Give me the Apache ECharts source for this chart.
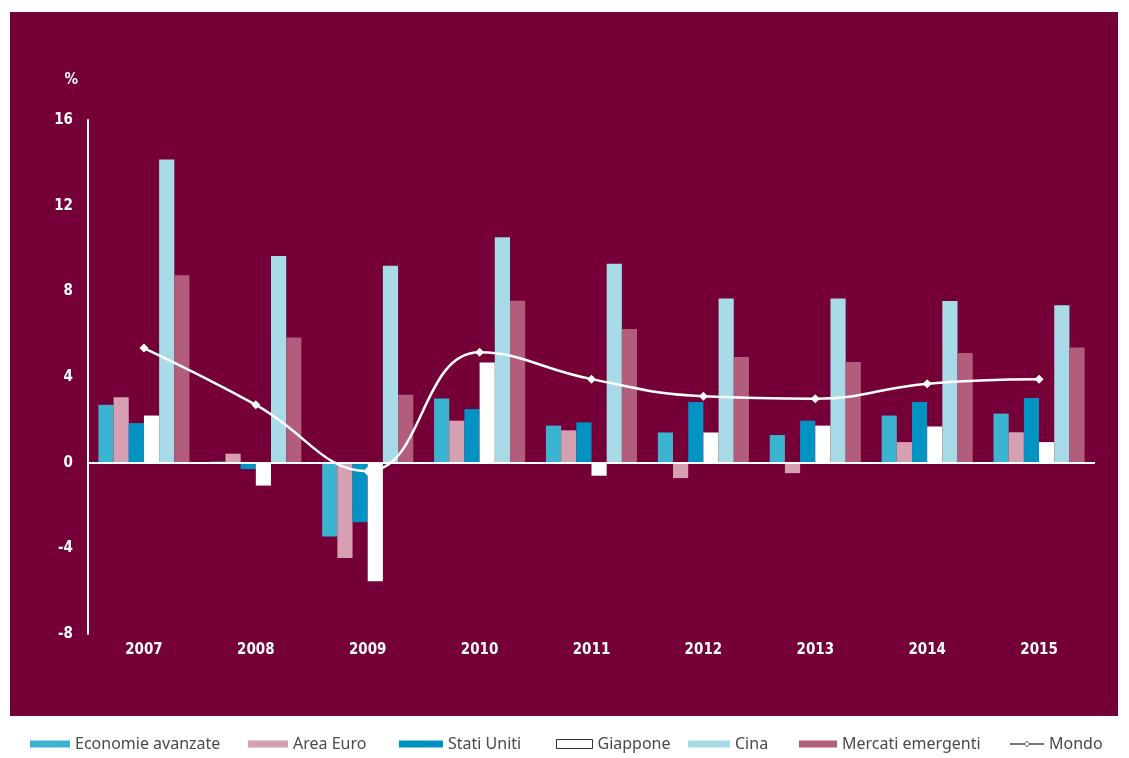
<!DOCTYPE html>
<html>
<head>
<meta charset="utf-8">
<title>Crescita del PIL 2007-2015</title>
<script src="https://cdn.jsdelivr.net/npm/echarts/dist/echarts.min.js"></script>
<style>
  html, body { margin: 0; padding: 0; background: #ffffff; }
  #wrap { position: relative; width: 1129px; height: 758px; }
  #bg { position: absolute; left: 10px; top: 12px; width: 1108px; height: 704px; background: #740037; }
  #main { position: absolute; left: 0; top: 0; width: 1129px; height: 758px; }
</style>
</head>
<body>
<div id="wrap">
  <div id="bg"></div>
  <div id="main"></div>
</div>
<script>
// dati (variazione % annua)
var anni = ["2007", "2008", "2009", "2010", "2011", "2012", "2013", "2014", "2015"];
var economieAvanzate = [2.7, 0.05, -3.45, 3.0, 1.73, 1.41, 1.29, 2.2, 2.29];
var areaEuro = [3.05, 0.42, -4.45, 1.96, 1.51, -0.72, -0.49, 0.96, 1.42];
var statiUniti = [1.85, -0.3, -2.78, 2.5, 1.88, 2.83, 1.96, 2.83, 3.02];
var giappone = [2.2, -1.07, -5.54, 4.68, -0.61, 1.41, 1.73, 1.69, 0.96];
var cina = [14.15, 9.65, 9.2, 10.53, 9.29, 7.66, 7.66, 7.55, 7.35];
var mercatiEmergenti = [8.75, 5.85, 3.17, 7.56, 6.24, 4.93, 4.7, 5.12, 5.38];
var mondo = [5.35, 2.7, -0.4, 5.15, 3.9, 3.1, 2.99, 3.69, 3.9];
var yTicks = [-8, -4, 0, 4, 8, 12, 16];

var colori = {
  eco: "#3bb4d2",
  euro: "#d6a0b2",
  usa: "#0093c3",
  jap: "#ffffff",
  cina: "#a9dae8",
  merc: "#b35d7d"
};

var fontAssi = "'DejaVu Sans Condensed', 'DejaVu Sans', sans-serif";

function barre(nome, dati, colore) {
  return {
    name: nome,
    type: "bar",
    data: dati,
    barGap: "0%",
    barCategoryGap: "18.6%",
    itemStyle: { color: colore },
    z: 2
  };
}

// una legenda per voce, per tenere le posizioni del riferimento
function legenda(nome, left, w, extra) {
  var item = { name: nome };
  if (extra) Object.assign(item, extra);
  return {
    data: [item],
    left: left,
    top: 736,
    padding: 0,
    icon: nome === "Mondo" ? undefined : "rect",
    itemWidth: w,
    itemHeight: nome === "Giappone" ? 9 : 7,
    textStyle: { color: "#4a4a4a", fontSize: 16, fontFamily: "Noto Sans, sans-serif" },
    selectedMode: false
  };
}

var chartDom = document.getElementById("main");
var myChart = echarts.init(chartDom);

var option = {
  backgroundColor: "transparent",
  animation: false,
  grid: { left: 88, right: 34, top: 120, bottom: 124 },
  legend: [
    legenda("Economie avanzate", 30, 40),
    legenda("Area Euro", 248, 40),
    legenda("Stati Uniti", 399, 44),
    legenda("Giappone", 556, 36, { itemStyle: { color: "#fff", borderColor: "#333", borderWidth: 1 } }),
    legenda("Cina", 688, 42),
    legenda("Mercati emergenti", 799, 38),
    legenda("Mondo", 1009, 34, {
      itemStyle: { color: "#fff", borderColor: "#555", borderWidth: 1 },
      lineStyle: { color: "#777", width: 2 }
    })
  ],
  xAxis: {
    type: "category",
    data: anni,
    axisLine: { show: false, onZero: false },
    axisTick: { show: false },
    axisLabel: { color: "#fff", fontSize: 15, fontWeight: "bold", fontFamily: fontAssi, margin: 9 },
    splitLine: { show: false }
  },
  yAxis: {
    type: "value",
    min: yTicks[0],
    max: yTicks[yTicks.length - 1],
    interval: 4,
    name: "%",
    nameLocation: "end",
    nameGap: 32,
    nameTextStyle: { color: "#fff", fontSize: 15, fontWeight: "bold", fontFamily: fontAssi, align: "right", padding: [0, 10, 0, 0] },
    axisLine: { show: true, lineStyle: { color: "#fff", width: 2 } },
    axisTick: { show: false },
    splitLine: { show: false },
    axisLabel: { color: "#fff", fontSize: 15, fontWeight: "bold", fontFamily: fontAssi, margin: 15 }
  },
  series: [
    Object.assign(barre("Economie avanzate", economieAvanzate, colori.eco), {
      markLine: {
        silent: true,
        symbol: "none",
        label: { show: false },
        lineStyle: { color: "#fff", width: 2, type: "solid" },
        data: [{ yAxis: 0 }],
        z: 3
      }
    }),
    barre("Area Euro", areaEuro, colori.euro),
    barre("Stati Uniti", statiUniti, colori.usa),
    barre("Giappone", giappone, colori.jap),
    barre("Cina", cina, colori.cina),
    barre("Mercati emergenti", mercatiEmergenti, colori.merc),
    {
      name: "Mondo",
      type: "line",
      data: mondo,
      smooth: 0.45,
      symbol: "diamond",
      symbolSize: 9,
      itemStyle: { color: "#fff" },
      lineStyle: { color: "#fff", width: 2.5 },
      z: 5
    }
  ]
};

option && myChart.setOption(option);
</script>
</body>
</html>
